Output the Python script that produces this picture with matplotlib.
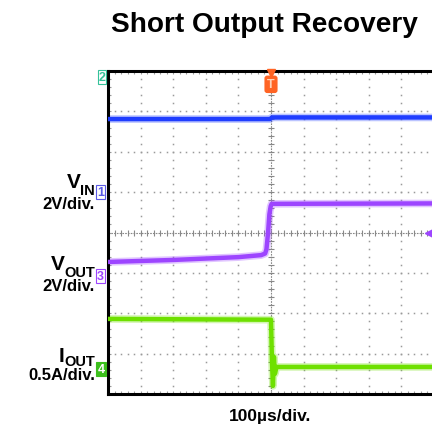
import matplotlib.pyplot as plt
import numpy as np

plt.rcParams['font.family'] = ['Liberation Sans', 'DejaVu Sans']

# time in us, levels in screen divisions (center line = 0)
t_ch2 = [-500, -3, 3, 500]
ch2 = [2.81, 2.81, 2.85, 2.85]

t_ch3 = [-500, -300, -100, -30, -18, -14, -9, -5, -1, 2, 500]
ch3 = [-0.73, -0.68, -0.61, -0.56, -0.52, -0.42, 0.0, 0.45, 0.65, 0.71, 0.72]

t_ch4 = [-500, 0, 3, 6, 9, 12, 17, 500]
ch4 = [-2.14, -2.16, -3.2, -3.8, -3.08, -3.5, -3.33, -3.33]

blue = '#1f3dff'
purple = '#9d45ff'
green = '#6ee000'
orange = '#ff6424'

W, H = 432, 427
fig = plt.figure(figsize=(W / 100, H / 100), dpi=100)


def fx(px):
    return px / W


def fy(py):
    return 1 - py / H


ax = fig.add_axes([fx(108), fy(395), 326 / W, 323 / H])
ax.set_xlim(-500, 500)
ax.set_ylim(-4, 4)

# dotted scope graticule
sub_x = np.arange(-500, 501, 20)
sub_y = np.arange(-4, 4.01, 0.2)
for gx in range(-400, 401, 100):
    if gx == 0:
        continue
    ax.plot(np.full(len(sub_y), gx), sub_y, ls='none', marker='s', ms=1.1,
            mec='none', mfc='#9a9a9a', zorder=1)
for gy in range(-3, 4):
    if gy == 0:
        continue
    ax.plot(sub_x, np.full(len(sub_x), gy), ls='none', marker='s', ms=1.1,
            mec='none', mfc='#9a9a9a', zorder=1)

# center lines with tick marks
ax.axhline(0, color='#888888', lw=0.8, ls=(0, (1.5, 1)), zorder=1)
ax.axvline(0, color='#888888', lw=0.8, ls=(0, (1.5, 1)), zorder=1)
ax.plot(sub_x, np.zeros(len(sub_x)), ls='none', marker='|', ms=4, mew=0.8,
        color='#888888', zorder=1)
ax.plot(np.zeros(len(sub_y)), sub_y, ls='none', marker='_', ms=4, mew=0.8,
        color='#888888', zorder=1)

# traces
for t, v, c in [(t_ch2, ch2, blue), (t_ch3, ch3, purple), (t_ch4, ch4, green)]:
    ax.plot(t, v, color=c, lw=5.5, alpha=0.3, solid_capstyle='butt', zorder=2)
    ax.plot(t, v, color=c, lw=3.2, solid_capstyle='butt', zorder=3)

# frame
ax.set_xticks(sub_x)
ax.set_yticks(sub_y)
ax.tick_params(direction='in', length=2, width=0.8, color='#9a9a9a',
               top=True, labelbottom=False, labelleft=False)
for side in ['left', 'top', 'bottom']:
    ax.spines[side].set_linewidth(2.2)
    ax.spines[side].set_color('black')
ax.spines['right'].set_visible(False)

# trigger marker and level marker
ax.plot([0], [3.95], marker='v', ms=6, color=orange, clip_on=False, zorder=5)
ax.text(0, 3.67, 'T', ha='center', va='center', fontsize=9, fontweight='bold',
        color='#ffd2b8',
        bbox=dict(boxstyle='round,pad=0.22', fc=orange, ec='none'), zorder=5)
ax.plot([486], [0], marker='<', ms=6, color=purple, clip_on=False, zorder=5)

# titles
fig.text(fx(264), fy(32), 'Short Output Recovery', ha='center', va='baseline',
         fontsize=20.2, fontweight='bold')
fig.text(fx(270), fy(421), '100µs/div.', ha='center', va='baseline',
         fontsize=12.5, fontweight='bold')

# channel labels
renderer = fig.canvas.get_renderer()


def label(main, sub, y_main, y_sub, scale, y_scale):
    s = fig.text(fx(95), fy(y_sub), sub, ha='right', va='baseline',
                 fontsize=10.5, fontweight='bold')
    w = s.get_window_extent(renderer).width
    fig.text(fx(95 - w), fy(y_main), main, ha='right', va='baseline',
             fontsize=15, fontweight='bold')
    fig.text(fx(95), fy(y_scale), scale, ha='right', va='baseline',
             fontsize=12, fontweight='bold')


label('V', 'IN', 188, 195, '2V/div.', 209)
label('V', 'OUT', 270, 277, '2V/div.', 291)
label('I', 'OUT', 362, 366, '0.5A/div.', 380)


def chan(num, x, y, color, filled=False):
    fig.text(fx(x), fy(y), num, ha='center', va='center', fontsize=9,
             fontweight='bold', color='white' if filled else color,
             bbox=dict(boxstyle='square,pad=0.08',
                       fc=color if filled else 'white', ec=color, lw=0.8))


chan('2', 102, 78, '#35c29a')
chan('1', 100.5, 193, '#5a5ae6')
chan('3', 100.5, 277, purple)
chan('4', 101, 370, '#3cbf1c', filled=True)

fig.savefig('out.png', dpi=100)
